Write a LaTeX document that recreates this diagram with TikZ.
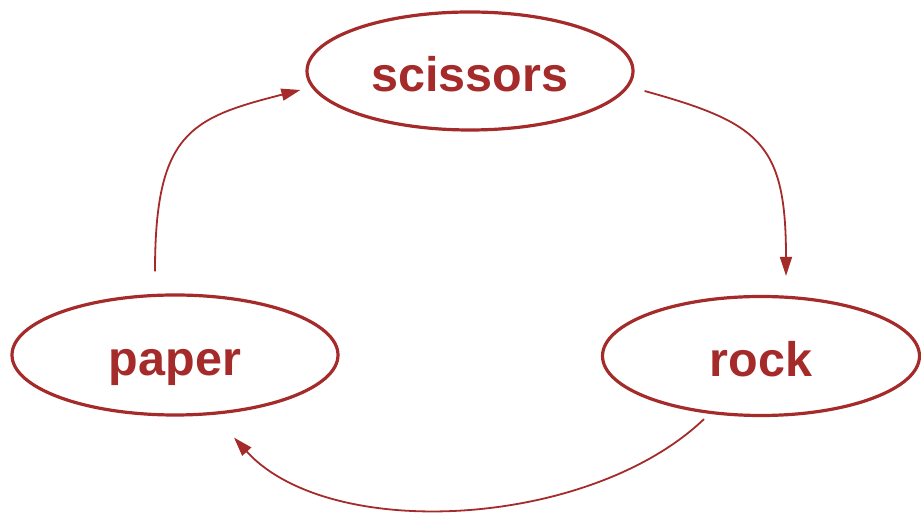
\documentclass[tikz,border=0pt]{standalone}
\usepackage{fontspec}
\setmainfont{Liberation Sans}
\usetikzlibrary{shapes.geometric,arrows.meta}
\definecolor{rps}{HTML}{A52A2A}
\begin{document}
\begin{tikzpicture}[x=1pt,y=1pt,
  state/.style={ellipse,draw=rps,line width=3.2pt,text=rps,inner sep=0pt,
    text height=42pt,text depth=0pt,
    font=\fontsize{48.5}{50}\selectfont\bfseries},
  conn/.style={draw=rps,line width=1.8pt,-{Triangle[length=19pt,width=12pt]}}]
\useasboundingbox (0,0) rectangle (921,513);
\node[state,minimum width=326pt,minimum height=118pt] (sc) at (470,442) {scissors};
\node[state,minimum width=326pt,minimum height=120pt] (pa) at (175,158) {paper};
\node[state,minimum width=317pt,minimum height=119pt] (ro) at (761,157) {rock};
\coordinate (s1) at ([xshift=-20pt,yshift=22pt]pa.north);
\coordinate (e1) at ([xshift=-5pt,yshift=-19pt]sc.west);
\coordinate (s2) at ([xshift=10pt,yshift=-20pt]sc.east);
\coordinate (e2) at ([xshift=25pt,yshift=19pt]ro.north);
\coordinate (s3) at ([xshift=-57pt,yshift=-2pt]ro.south);
\coordinate (e3) at ([xshift=59pt,yshift=-21pt]pa.south);
\draw[conn] (s1) .. controls (155,380) and (190,395) .. (e1);
\draw[conn] (s2) .. controls (760,390) and (786,370) .. (e2);
\draw[conn] (s3) .. controls (590,-15) and (330,-30) .. (e3);
\end{tikzpicture}
\end{document}
